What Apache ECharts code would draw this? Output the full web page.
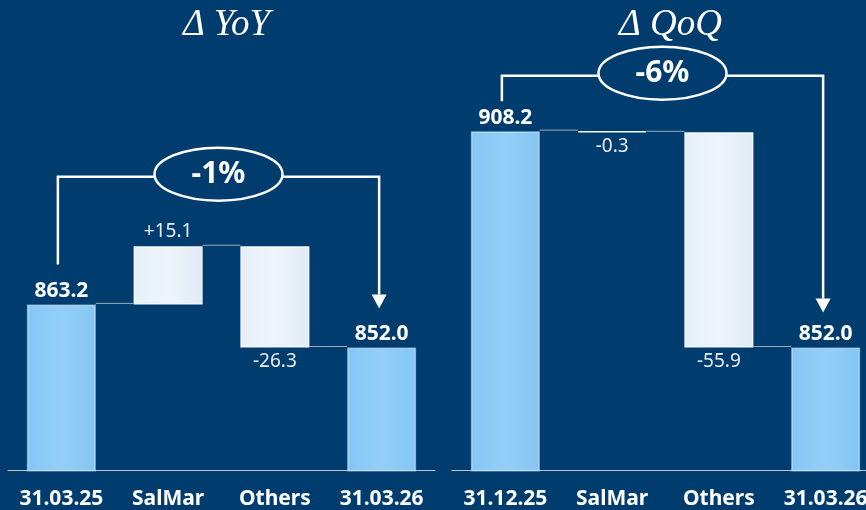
<!DOCTYPE html>
<html><head><meta charset="utf-8">
<script src="https://cdn.jsdelivr.net/npm/echarts@6/dist/echarts.min.js"></script>
<style>html,body{margin:0;padding:0;background:#003d6e;} #c{width:866px;height:510px;}</style>
</head><body><div id="c"></div>
<script>
// ---- data ----
const yoyTitle = 'Δ YoY';
const yoyCategories = ['31.03.25', 'SalMar', 'Others', '31.03.26'];
const yoyStart = 863.2;
const yoyDeltas = [15.1, -26.3];
const yoyEnd = 852.0;
const yoyChange = '-1%';

const qoqTitle = 'Δ QoQ';
const qoqCategories = ['31.12.25', 'SalMar', 'Others', '31.03.26'];
const qoqStart = 908.2;
const qoqDeltas = [-0.3, -55.9];
const qoqEnd = 852.0;
const qoqChange = '-6%';

const yMin = 820, yMax = 920;

// ---- styling ----
const BG = '#003d6e';
const BW = 69;
const FONT = '"Noto Sans", "Open Sans", sans-serif';

function waterfall(start, deltas, end) {
  const totals = [start].concat(deltas.map(() => '-'), [end]);
  const base = ['-'], span = ['-'], levels = [start];
  let level = start;
  deltas.forEach(d => {
    const next = Math.round((level + d) * 10) / 10;
    base.push(Math.min(level, next));
    span.push({ value: Math.abs(d), label: { position: d >= 0 ? 'top' : 'bottom' } });
    level = next;
    levels.push(level);
  });
  base.push('-'); span.push('-');
  return { totals, base, span, levels };
}

const totalStyle = {
  color: new echarts.graphic.LinearGradient(0, 0, 1, 0, [
    { offset: 0, color: '#86c6f4' }, { offset: 0.5, color: '#93cff9' }, { offset: 1, color: '#86c5f2' }
  ]),
  borderColor: 'rgba(220,240,255,0.55)', borderWidth: 1.5
};
const deltaStyle = {
  color: new echarts.graphic.LinearGradient(0, 0, 1, 0, [
    { offset: 0, color: '#e6eff8' }, { offset: 0.5, color: '#edf4fb' }, { offset: 1, color: '#e1ebf5' }
  ]),
  borderColor: '#f4f8fc', borderWidth: 1.5
};

function panelSeries(idx, wf, deltas) {
  return [
    {
      type: 'bar', xAxisIndex: idx, yAxisIndex: idx, stack: 'w' + idx, barWidth: BW,
      data: wf.base, itemStyle: { color: 'transparent' }, silent: true
    },
    {
      type: 'bar', xAxisIndex: idx, yAxisIndex: idx, stack: 'w' + idx, barWidth: BW,
      data: wf.span, itemStyle: deltaStyle,
      label: {
        show: true, distance: 5, color: '#e6edf4', fontFamily: FONT, fontSize: 19,
        formatter: p => { const d = deltas[p.dataIndex - 1]; return (d > 0 ? '+' : '') + d.toFixed(1); }
      }
    },
    {
      type: 'bar', xAxisIndex: idx, yAxisIndex: idx, barWidth: BW, barGap: '-100%',
      data: wf.totals, itemStyle: totalStyle,
      label: {
        show: true, position: 'top', distance: 3, color: '#ffffff', fontFamily: FONT,
        fontSize: 21, fontWeight: 'bold', formatter: p => Number(p.value).toFixed(1)
      }
    },
    {
      type: 'custom', xAxisIndex: idx, yAxisIndex: idx, silent: true,
      data: wf.levels.map((lv, i) => [i, lv]),
      encode: { x: 0, y: 1 },
      renderItem: (params, api) => {
        const i = api.value(0), v = api.value(1);
        const a = api.coord([i, v]), b = api.coord([i + 1, v]);
        return {
          type: 'line',
          shape: { x1: a[0] + BW / 2, y1: a[1] - 1, x2: b[0] - BW / 2, y2: b[1] - 1 },
          style: { stroke: '#9aabbd', lineWidth: 1 }
        };
      }
    }
  ];
}

const yoy = waterfall(yoyStart, yoyDeltas, yoyEnd);
const qoq = waterfall(qoqStart, qoqDeltas, qoqEnd);

function xAxis(idx, cats) {
  return {
    type: 'category', gridIndex: idx, data: cats,
    axisLine: { lineStyle: { color: '#b9c4cf', width: 1 } },
    axisTick: { show: false },
    axisLabel: { color: '#ffffff', fontFamily: FONT, fontSize: 21, fontWeight: 'bold', margin: 18, interval: 0, hideOverlap: false }
  };
}
function yAxis(idx) {
  return { type: 'value', gridIndex: idx, min: yMin, max: yMax, show: false, splitLine: { show: false } };
}
const titleStyle = { color: '#ffffff', fontFamily: '"Liberation Serif", "DejaVu Serif", serif', fontStyle: 'italic', fontWeight: 'normal', fontSize: 37 };

const option = {
  backgroundColor: BG,
  animation: false,
  title: [
    { text: yoyTitle, left: 221.5, textAlign: 'center', top: 2, textStyle: titleStyle },
    { text: qoqTitle, left: 665.5, textAlign: 'center', top: 2, textStyle: titleStyle }
  ],
  grid: [
    { left: 8, top: 85.7, width: 427, height: 385, containLabel: false, outerBoundsMode: 'none' },
    { left: 452, top: 85.7, width: 427, height: 385, containLabel: false, outerBoundsMode: 'none' }
  ],
  xAxis: [xAxis(0, yoyCategories), xAxis(1, qoqCategories)],
  yAxis: [yAxis(0), yAxis(1)],
  series: panelSeries(0, yoy, yoyDeltas).concat(panelSeries(1, qoq, qoqDeltas))
};

const chart = echarts.init(document.getElementById('c'), null, { renderer: 'canvas' });
chart.setOption(option);

// ---- change brackets ----
function bracket(idx, start, end, lastIdx, text, bracketY, startGap, arrowGap) {
  const p0 = chart.convertToPixel({ xAxisIndex: idx, yAxisIndex: idx }, [0, start]);
  const p1 = chart.convertToPixel({ xAxisIndex: idx, yAxisIndex: idx }, [lastIdx, end]);
  const x0 = p0[0] - 3.5, x1 = p1[0] - 2.5;
  const tip = p1[1] - arrowGap, base = tip - 14;
  const cx = (x0 + x1) / 2;
  const stroke = { stroke: '#ffffff', lineWidth: 2.5, fill: null };
  return [
    { type: 'polyline', shape: { points: [[x0, p0[1] - startGap], [x0, bracketY], [x1, bracketY], [x1, base]] }, style: stroke, z: 10 },
    { type: 'polygon', shape: { points: [[x1 - 7.5, base], [x1 + 7.5, base], [x1, tip]] }, style: { fill: '#ffffff' }, z: 10 },
    { type: 'ellipse', shape: { cx: cx, cy: bracketY - 2.5, rx: 64, ry: 26.5 }, style: { fill: BG, stroke: '#ffffff', lineWidth: 2.5 }, z: 11 },
    { type: 'text', x: cx, y: bracketY - 2.5, style: { text: text, fill: '#ffffff', font: 'bold 30px ' + FONT, textAlign: 'center', textVerticalAlign: 'middle' }, z: 12 }
  ];
}
chart.setOption({
  graphic: bracket(0, yoyStart, yoyEnd, yoyCategories.length - 1, yoyChange, 176.7, 40, 39)
    .concat(bracket(1, qoqStart, qoqEnd, qoqCategories.length - 1, qoqChange, 75.7, 30, 35))
});
</script>
</body></html>
